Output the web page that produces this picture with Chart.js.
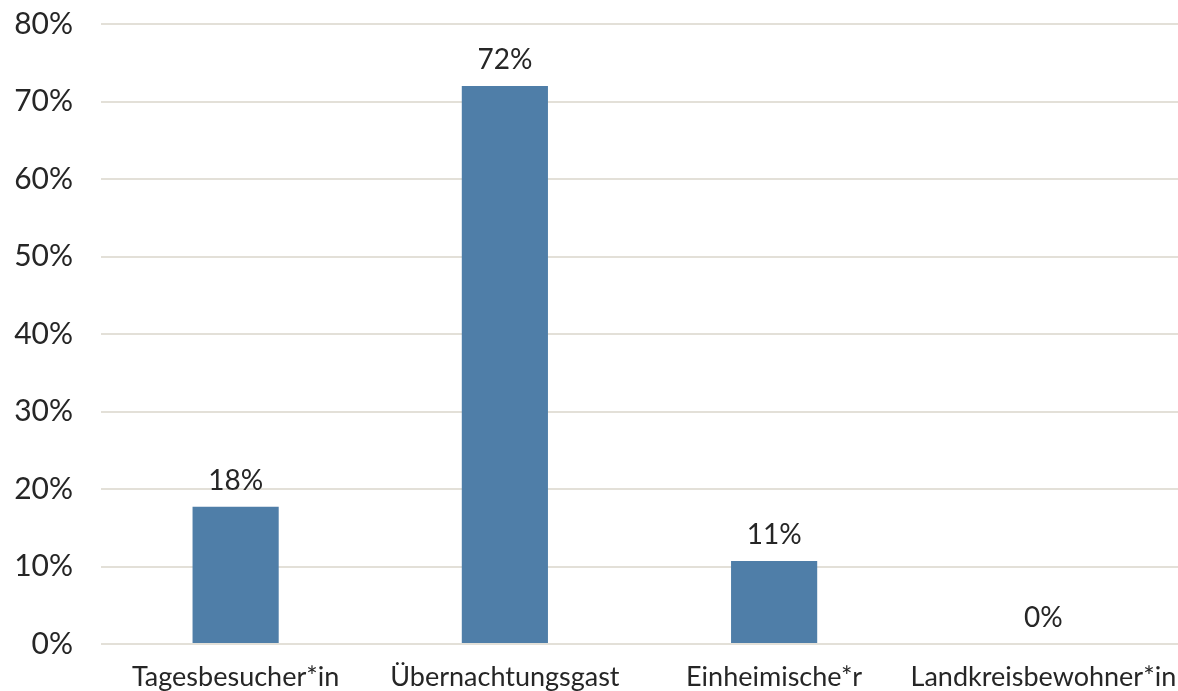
<!DOCTYPE html>
<html>
<head>
<meta charset="utf-8">
<script src="https://cdn.jsdelivr.net/npm/chart.js@4"></script>
<style>
  html, body { margin: 0; padding: 0; background: #fff; }
  #wrap { width: 1178px; height: 691px; }
</style>
</head>
<body>
<div id="wrap"><canvas id="myChart"></canvas></div>
<script>
// categorias y valores (en %)
const kategorien = ['Tagesbesucher*in', 'Übernachtungsgast', 'Einheimische*r', 'Landkreisbewohner*in'];
const anteile = [17.7, 72.0, 10.7, 0];
const beschriftung = ['18%', '72%', '11%', '0%'];

const textFarbe = '#262626';
const schrift = 'Lato, "DejaVu Sans", sans-serif';

// etiquetas encima de cada barra
const wertLabels = {
    id: 'wertLabels',
    afterDatasetsDraw(chart) {
        const ctx = chart.ctx;
        const meta = chart.getDatasetMeta(0);
        ctx.save();
        ctx.font = '28px ' + schrift;
        ctx.fillStyle = textFarbe;
        ctx.textAlign = 'center';
        ctx.textBaseline = 'alphabetic';
        meta.data.forEach((bar, i) => {
            ctx.fillText(beschriftung[i], bar.x, bar.y - 17);
        });
        ctx.restore();
    }
};

const ctx = document.getElementById('myChart');
new Chart(ctx, {
    type: 'bar',
    data: {
        labels: kategorien,
        datasets: [{
            data: anteile,
            backgroundColor: '#4F7EA8',
            barPercentage: 0.32,
            categoryPercentage: 1
        }]
    },
    options: {
        responsive: true,
        maintainAspectRatio: false,
        animation: false,
        layout: { padding: { left: 12, top: 24, right: 0, bottom: 0 } },
        plugins: { legend: { display: false }, tooltip: { enabled: false } },
        scales: {
            x: {
                grid: { display: false },
                border: { display: false },
                ticks: { color: textFarbe, font: { family: schrift, size: 27 }, padding: 9, maxRotation: 0, autoSkip: false },
                afterFit: (scale) => {
                    scale.paddingLeft = 0;
                    scale.paddingRight = 0;
                    scale.height = 47;
                }
            },
            y: {
                min: 0,
                max: 80,
                grid: { color: '#E3E0D8', lineWidth: 2, drawTicks: false },
                border: { display: false },
                ticks: {
                    stepSize: 10,
                    color: textFarbe,
                    font: { family: schrift, size: 30 },
                    padding: 28,
                    callback: v => v + '%'
                },
                afterFit: (scale) => {
                    scale.paddingTop = 0;
                    scale.paddingBottom = 0;
                    scale.width = 89;
                }
            }
        }
    },
    plugins: [wertLabels]
});
</script>
</body>
</html>
